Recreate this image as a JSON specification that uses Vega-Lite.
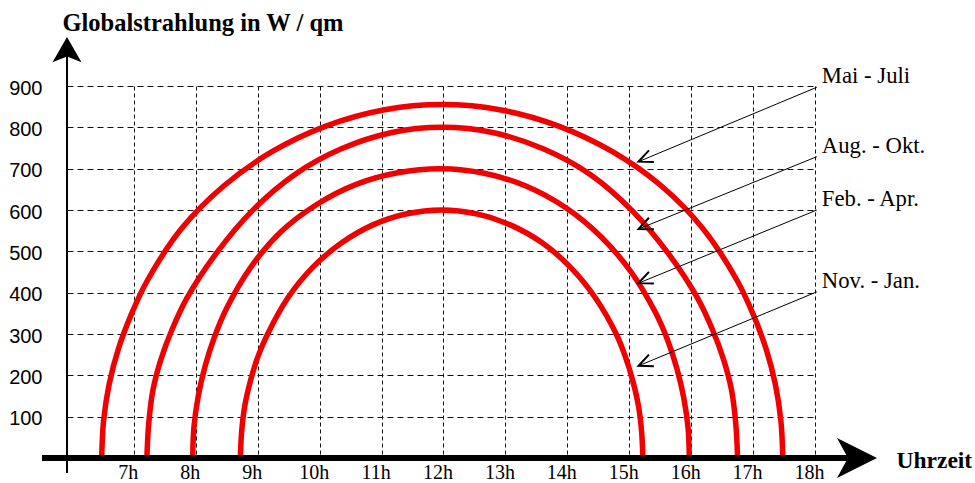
{
  "$schema": "https://vega.github.io/schema/vega-lite/v6.json",
  "width": 748,
  "height": 372,
  "autosize": "none",
  "padding": {"left": 67, "top": 86, "right": 160, "bottom": 25},
  "background": "white",
  "config": {"view": {"stroke": null}},
  "datasets": {
    "curves": [
      {"series": "Mai - Juli", "hour": 6.48, "value": 0},
      {"series": "Mai - Juli", "hour": 6.51, "value": 89},
      {"series": "Mai - Juli", "hour": 6.60, "value": 178},
      {"series": "Mai - Juli", "hour": 6.75, "value": 264},
      {"series": "Mai - Juli", "hour": 6.96, "value": 348},
      {"series": "Mai - Juli", "hour": 7.22, "value": 430},
      {"series": "Mai - Juli", "hour": 7.77, "value": 555},
      {"series": "Mai - Juli", "hour": 8.45, "value": 658},
      {"series": "Mai - Juli", "hour": 9.23, "value": 741},
      {"series": "Mai - Juli", "hour": 10.10, "value": 803},
      {"series": "Mai - Juli", "hour": 11.03, "value": 842},
      {"series": "Mai - Juli", "hour": 11.98, "value": 855},
      {"series": "Mai - Juli", "hour": 12.93, "value": 842},
      {"series": "Mai - Juli", "hour": 13.86, "value": 803},
      {"series": "Mai - Juli", "hour": 14.73, "value": 741},
      {"series": "Mai - Juli", "hour": 15.52, "value": 658},
      {"series": "Mai - Juli", "hour": 16.19, "value": 555},
      {"series": "Mai - Juli", "hour": 16.74, "value": 430},
      {"series": "Mai - Juli", "hour": 17.00, "value": 348},
      {"series": "Mai - Juli", "hour": 17.21, "value": 264},
      {"series": "Mai - Juli", "hour": 17.36, "value": 178},
      {"series": "Mai - Juli", "hour": 17.45, "value": 89},
      {"series": "Mai - Juli", "hour": 17.48, "value": 0},

      {"series": "Aug. - Okt.", "hour": 7.21, "value": 0},
      {"series": "Aug. - Okt.", "hour": 7.24, "value": 84},
      {"series": "Aug. - Okt.", "hour": 7.31, "value": 166},
      {"series": "Aug. - Okt.", "hour": 7.44, "value": 240},
      {"series": "Aug. - Okt.", "hour": 7.62, "value": 312},
      {"series": "Aug. - Okt.", "hour": 7.85, "value": 385},
      {"series": "Aug. - Okt.", "hour": 8.33, "value": 495},
      {"series": "Aug. - Okt.", "hour": 8.91, "value": 598},
      {"series": "Aug. - Okt.", "hour": 9.60, "value": 686},
      {"series": "Aug. - Okt.", "hour": 10.35, "value": 748},
      {"series": "Aug. - Okt.", "hour": 11.15, "value": 787},
      {"series": "Aug. - Okt.", "hour": 11.98, "value": 800},
      {"series": "Aug. - Okt.", "hour": 12.81, "value": 787},
      {"series": "Aug. - Okt.", "hour": 13.61, "value": 748},
      {"series": "Aug. - Okt.", "hour": 14.37, "value": 686},
      {"series": "Aug. - Okt.", "hour": 15.05, "value": 598},
      {"series": "Aug. - Okt.", "hour": 15.63, "value": 495},
      {"series": "Aug. - Okt.", "hour": 16.11, "value": 385},
      {"series": "Aug. - Okt.", "hour": 16.34, "value": 312},
      {"series": "Aug. - Okt.", "hour": 16.52, "value": 240},
      {"series": "Aug. - Okt.", "hour": 16.65, "value": 166},
      {"series": "Aug. - Okt.", "hour": 16.72, "value": 84},
      {"series": "Aug. - Okt.", "hour": 16.75, "value": 0},

      {"series": "Feb. - Apr.", "hour": 7.95, "value": 0},
      {"series": "Feb. - Apr.", "hour": 7.97, "value": 75},
      {"series": "Feb. - Apr.", "hour": 8.04, "value": 150},
      {"series": "Feb. - Apr.", "hour": 8.15, "value": 222},
      {"series": "Feb. - Apr.", "hour": 8.30, "value": 292},
      {"series": "Feb. - Apr.", "hour": 8.49, "value": 360},
      {"series": "Feb. - Apr.", "hour": 8.89, "value": 462},
      {"series": "Feb. - Apr.", "hour": 9.38, "value": 548},
      {"series": "Feb. - Apr.", "hour": 9.96, "value": 614},
      {"series": "Feb. - Apr.", "hour": 10.59, "value": 662},
      {"series": "Feb. - Apr.", "hour": 11.26, "value": 690},
      {"series": "Feb. - Apr.", "hour": 11.96, "value": 700},
      {"series": "Feb. - Apr.", "hour": 12.66, "value": 689},
      {"series": "Feb. - Apr.", "hour": 13.33, "value": 658},
      {"series": "Feb. - Apr.", "hour": 13.97, "value": 606},
      {"series": "Feb. - Apr.", "hour": 14.54, "value": 536},
      {"series": "Feb. - Apr.", "hour": 15.03, "value": 450},
      {"series": "Feb. - Apr.", "hour": 15.43, "value": 350},
      {"series": "Feb. - Apr.", "hour": 15.62, "value": 285},
      {"series": "Feb. - Apr.", "hour": 15.77, "value": 216},
      {"series": "Feb. - Apr.", "hour": 15.88, "value": 146},
      {"series": "Feb. - Apr.", "hour": 15.95, "value": 73},
      {"series": "Feb. - Apr.", "hour": 15.97, "value": 0},

      {"series": "Nov. - Jan.", "hour": 8.72, "value": 0},
      {"series": "Nov. - Jan.", "hour": 8.74, "value": 63},
      {"series": "Nov. - Jan.", "hour": 8.79, "value": 125},
      {"series": "Nov. - Jan.", "hour": 8.88, "value": 185},
      {"series": "Nov. - Jan.", "hour": 9.00, "value": 244},
      {"series": "Nov. - Jan.", "hour": 9.16, "value": 300},
      {"series": "Nov. - Jan.", "hour": 9.48, "value": 386},
      {"series": "Nov. - Jan.", "hour": 9.88, "value": 460},
      {"series": "Nov. - Jan.", "hour": 10.35, "value": 520},
      {"series": "Nov. - Jan.", "hour": 10.86, "value": 564},
      {"series": "Nov. - Jan.", "hour": 11.41, "value": 591},
      {"series": "Nov. - Jan.", "hour": 11.97, "value": 600},
      {"series": "Nov. - Jan.", "hour": 12.53, "value": 591},
      {"series": "Nov. - Jan.", "hour": 13.08, "value": 564},
      {"series": "Nov. - Jan.", "hour": 13.60, "value": 520},
      {"series": "Nov. - Jan.", "hour": 14.06, "value": 460},
      {"series": "Nov. - Jan.", "hour": 14.46, "value": 386},
      {"series": "Nov. - Jan.", "hour": 14.79, "value": 300},
      {"series": "Nov. - Jan.", "hour": 14.94, "value": 244},
      {"series": "Nov. - Jan.", "hour": 15.06, "value": 185},
      {"series": "Nov. - Jan.", "hour": 15.15, "value": 125},
      {"series": "Nov. - Jan.", "hour": 15.20, "value": 63},
      {"series": "Nov. - Jan.", "hour": 15.22, "value": 0}
    ],
    "arrows": [
      {"label": "Mai - Juli", "x1": 18.03, "y1": 897, "x2": 15.15, "y2": 717},
      {"label": "Aug. - Okt.", "x1": 18.03, "y1": 729, "x2": 15.15, "y2": 554},
      {"label": "Feb. - Apr.", "x1": 18.03, "y1": 600, "x2": 15.15, "y2": 423},
      {"label": "Nov. - Jan.", "x1": 18.03, "y1": 402, "x2": 15.15, "y2": 223}
    ]
  },
  "layer": [
    {
      "data": {"name": "curves"},
      "mark": {"type": "line", "color": "#f00000", "strokeWidth": 5.5, "interpolate": "catmull-rom"},
      "encoding": {
        "x": {
          "field": "hour", "type": "quantitative",
          "scale": {"domain": [5.92, 18], "nice": false, "zero": false},
          "axis": {
            "values": [7, 8, 9, 10, 11, 12, 13, 14, 15, 16, 17, 18],
            "labelExpr": "datum.value + 'h'",
            "grid": true, "gridColor": "#111", "gridDash": [4, 3], "gridWidth": 1, "gridOpacity": 1,
            "domain": false, "ticks": false,
            "labelFont": "Liberation Serif", "labelFontSize": 20, "labelColor": "#000",
            "labelPadding": 4, "labelOffset": -6, "labelFlush": false, "labelOverlap": false,
            "title": "Uhrzeit", "titleFont": "Liberation Serif", "titleFontSize": 23.5, "titleFontWeight": "bold",
            "titleColor": "#000", "titleX": 829, "titleY": 9, "titleAlign": "left", "titleBaseline": "alphabetic", "titleAnchor": "start"
          }
        },
        "y": {
          "field": "value", "type": "quantitative",
          "scale": {"domain": [0, 900], "nice": false},
          "axis": {
            "values": [100, 200, 300, 400, 500, 600, 700, 800, 900],
            "grid": true, "gridColor": "#111", "gridDash": [6, 4], "gridWidth": 1, "gridOpacity": 1,
            "domain": false, "ticks": false,
            "labelFont": "Liberation Sans", "labelFontSize": 20, "labelColor": "#000",
            "labelPadding": 25, "labelOffset": 2, "labelFlush": false, "labelOverlap": false,
            "title": "Globalstrahlung in W / qm", "titleAngle": 0, "titleX": -5, "titleY": -56,
            "titleAlign": "left", "titleBaseline": "alphabetic", "titleAnchor": "start",
            "titleFont": "Liberation Serif", "titleFontSize": 24.5, "titleFontWeight": "bold", "titleColor": "#000"
          }
        },
        "detail": {"field": "series", "type": "nominal"}
      }
    },
    {
      "data": {"values": [{}]},
      "mark": {"type": "rule", "color": "#000", "strokeWidth": 2},
      "encoding": {
        "x": {"datum": 5.92, "type": "quantitative"},
        "y": {"datum": -36, "type": "quantitative"},
        "y2": {"datum": 990}
      }
    },
    {
      "data": {"values": [{}]},
      "mark": {"type": "rule", "color": "#000", "strokeWidth": 6},
      "encoding": {
        "x": {"datum": 5.516, "type": "quantitative"},
        "x2": {"datum": 18.55},
        "y": {"datum": 0, "type": "quantitative"}
      }
    },
    {
      "data": {"values": [{}]},
      "mark": {"type": "point", "shape": "M 1 0 L -1 -1 L -0.45 0 L -1 1 Z", "size": 1600, "filled": true, "color": "#000", "opacity": 1, "strokeWidth": 0},
      "encoding": {
        "x": {"datum": 18.678, "type": "quantitative"},
        "y": {"datum": 0, "type": "quantitative"}
      }
    },
    {
      "data": {"values": [{}]},
      "mark": {"type": "point", "shape": "M 0 -1 L 1 0.75 L 0 0.35 L -1 0.75 Z", "size": 841, "filled": true, "color": "#000", "opacity": 1, "strokeWidth": 0},
      "encoding": {
        "x": {"datum": 5.92, "type": "quantitative"},
        "y": {"datum": 983.5, "type": "quantitative"}
      }
    },
    {
      "data": {"name": "arrows"},
      "mark": {"type": "rule", "color": "#000", "strokeWidth": 1},
      "encoding": {
        "x": {"field": "x1", "type": "quantitative"},
        "y": {"field": "y1", "type": "quantitative"},
        "x2": {"field": "x2"},
        "y2": {"field": "y2"}
      }
    },
    {
      "data": {"name": "arrows"},
      "mark": {"type": "point", "shape": "M -1 -0.45 L 0 0 L -1 0.45", "size": 784, "filled": false, "color": "#000", "opacity": 1, "strokeWidth": 2, "angle": 157},
      "encoding": {
        "x": {"field": "x2", "type": "quantitative"},
        "y": {"field": "y2", "type": "quantitative"}
      }
    },
    {
      "data": {"name": "arrows"},
      "mark": {"type": "text", "align": "left", "baseline": "alphabetic", "dx": 5, "dy": -4, "font": "Liberation Serif", "fontSize": 22.7, "color": "#000"},
      "encoding": {
        "x": {"field": "x1", "type": "quantitative"},
        "y": {"field": "y1", "type": "quantitative"},
        "text": {"field": "label", "type": "nominal"}
      }
    }
  ]
}
